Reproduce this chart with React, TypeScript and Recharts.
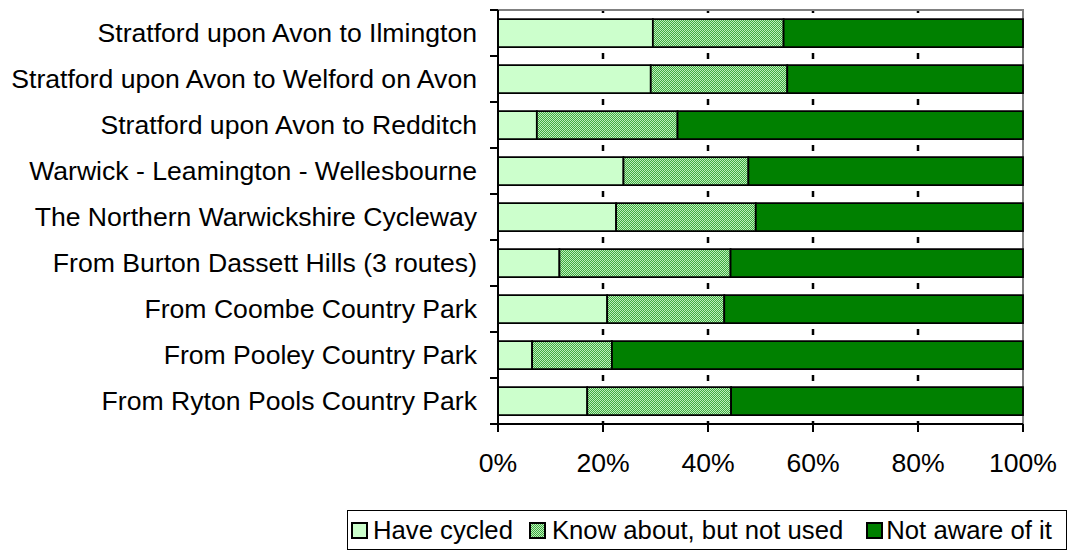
import React from 'react';
import { BarChart, Bar, XAxis, YAxis, CartesianGrid, Legend, ReferenceArea } from 'recharts';

const routes = [
  'Stratford upon Avon to Ilmington',
  'Stratford upon Avon to Welford on Avon',
  'Stratford upon Avon to Redditch',
  'Warwick - Leamington - Wellesbourne',
  'The Northern Warwickshire Cycleway',
  'From Burton Dassett Hills (3 routes)',
  'From Coombe Country Park',
  'From Pooley Country Park',
  'From Ryton Pools Country Park',
];

const haveCycled = [29.5, 29.1, 7.4, 23.9, 22.5, 11.7, 20.8, 6.5, 17.0];
const knowAbout = [24.9, 26.0, 26.8, 23.8, 26.6, 32.6, 22.3, 15.2, 27.4];
const notAware = [45.6, 44.9, 65.8, 52.3, 50.9, 55.7, 56.9, 78.3, 55.6];

const percentTicks = [0, 20, 40, 60, 80, 100];

const data = routes.map((route, i) => ({
  route,
  cycled: haveCycled[i],
  know: knowAbout[i],
  unaware: notAware[i],
}));

const FONT = '"Liberation Sans", Arial, sans-serif';
const HATCH_INK = '#40ac40';

const CategoryTick = (props: any) => {
  const { x, y, payload } = props;
  const half = payload.offset || 23;
  const axisX = x + 21;
  const isLast = payload.value === routes[routes.length - 1];
  return (
    <g>
      <text x={x} y={y} dy="0.355em" textAnchor="end" fontSize={26.6} fontFamily={FONT} fill="#000">
        {payload.value}
      </text>
      <line x1={axisX - 8} x2={axisX} y1={y - half} y2={y - half} stroke="#000" strokeWidth={2} />
      {isLast && (
        <line x1={axisX - 8} x2={axisX} y1={y + half} y2={y + half} stroke="#000" strokeWidth={2} />
      )}
    </g>
  );
};

const swatch = (fill: string) => (
  <svg width={17} height={17} style={{ display: 'block', flexShrink: 0 }}>
    <rect x={1} y={1} width={15} height={15} fill={fill} stroke="#000" strokeWidth={2} />
  </svg>
);

const renderLegend = () => (
  <div
    style={{
      display: 'flex',
      alignItems: 'center',
      boxSizing: 'border-box',
      width: 720,
      height: 40,
      border: '1.5px solid #000',
      paddingLeft: 3,
      fontFamily: FONT,
      fontSize: 25.7,
      color: '#000',
      background: '#fff',
      whiteSpace: 'nowrap',
    }}
  >
    <span style={{ display: 'flex', alignItems: 'center', marginRight: 16 }}>
      {swatch('#ccffcc')}
      <span style={{ marginLeft: 5 }}>Have cycled</span>
    </span>
    <span style={{ display: 'flex', alignItems: 'center', marginRight: 23 }}>
      {swatch('url(#hatch)')}
      <span style={{ marginLeft: 6 }}>Know about, but not used</span>
    </span>
    <span style={{ display: 'flex', alignItems: 'center' }}>
      {swatch('#008000')}
      <span style={{ marginLeft: 3 }}>Not aware of it</span>
    </span>
  </div>
);

export default function App() {
  return (
    <div style={{ position: 'absolute', left: 0, top: 0, background: '#fff' }}>
      <BarChart
        width={1076}
        height={550}
        data={data}
        layout="vertical"
        barCategoryGap="20%"
        margin={{ top: 10, right: 53, left: 0, bottom: 66 }}
      >
        <defs>
          <pattern id="hatch" width={4} height={4} patternUnits="userSpaceOnUse">
            <rect width={4} height={4} fill="#bdeebd" />
            <rect x={0} y={3} width={1} height={1} fill={HATCH_INK} />
            <rect x={1} y={2} width={1} height={1} fill={HATCH_INK} />
            <rect x={2} y={1} width={1} height={1} fill={HATCH_INK} />
            <rect x={3} y={0} width={1} height={1} fill={HATCH_INK} />
            <rect x={0} y={1} width={1} height={1} fill={HATCH_INK} />
            <rect x={1} y={0} width={1} height={1} fill={HATCH_INK} />
            <rect x={2} y={3} width={1} height={1} fill={HATCH_INK} />
            <rect x={3} y={2} width={1} height={1} fill={HATCH_INK} />
          </pattern>
        </defs>
        <CartesianGrid
          horizontal={false}
          verticalValues={[20, 40, 60, 80]}
          stroke="#000"
          strokeWidth={2.5}
          strokeDasharray="3 40 3 0"
        />
        <ReferenceArea x1={0} x2={100} fill="none" fillOpacity={0} stroke="#808080" strokeWidth={2} ifOverflow="visible" />
        <XAxis
          type="number"
          domain={[0, 100]}
          ticks={percentTicks}
          tickFormatter={(v) => `${v}%`}
          height={60}
          tickSize={8}
          tickMargin={21}
          axisLine={{ stroke: '#000', strokeWidth: 2 }}
          tickLine={{ stroke: '#000', strokeWidth: 2 }}
          tick={{ fill: '#000', fontSize: 26.6, fontFamily: FONT }}
        />
        <YAxis
          type="category"
          dataKey="route"
          width={498}
          tickSize={8}
          tickMargin={13}
          tickLine={false}
          axisLine={{ stroke: '#000', strokeWidth: 2 }}
          tick={<CategoryTick />}
          interval={0}
        />
        <Bar dataKey="cycled" name="Have cycled" stackId="a" fill="#ccffcc" stroke="#000" strokeWidth={1.8} isAnimationActive={false} />
        <Bar dataKey="know" name="Know about, but not used" stackId="a" fill="url(#hatch)" stroke="#000" strokeWidth={1.8} isAnimationActive={false} />
        <Bar dataKey="unaware" name="Not aware of it" stackId="a" fill="#008000" stroke="#000" strokeWidth={1.8} isAnimationActive={false} />
        <Legend
          layout="horizontal"
          verticalAlign="middle"
          align="center"
          content={renderLegend}
          wrapperStyle={{ position: 'absolute', left: 347, top: 510, width: 720 }}
        />
      </BarChart>
    </div>
  );
}
